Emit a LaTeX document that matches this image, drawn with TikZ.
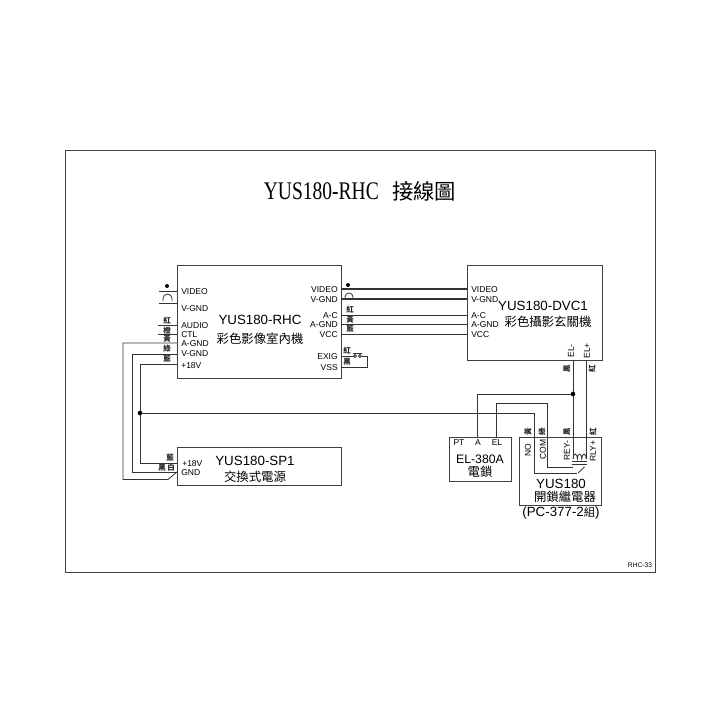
\documentclass[tikz,border=0pt]{standalone}
\usepackage{graphicx}
\usepackage{fontspec}
\setmainfont{Liberation Sans}
\newfontfamily\cjk{Noto Sans CJK TC}
\newfontfamily\titlef{Liberation Serif}
\tikzset{
 px/.style={x=0.75pt,y=-0.75pt},
 boxs/.style={draw=black!75,line width=0.65pt,fill=none},
 wire/.style={draw=black!80,line width=0.6pt},
 thick wire/.style={draw=black!80,line width=1pt},
 lab/.style={font=\fontsize{6.4}{7}\selectfont,inner sep=0pt,text=black,yshift=-0.6pt},
 smallc/.style={font=\cjk\bfseries\fontsize{5.6}{6}\selectfont,inner sep=0pt,text=black!85},
 big/.style={font=\fontsize{10}{12}\selectfont,inner sep=0pt,text=black},
 cname/.style={font=\cjk\fontsize{9.3}{10}\selectfont,inner sep=0pt,text=black},
 dot/.style={circle,fill=black,inner sep=0pt,minimum size=4pt}
}
\begin{document}
\begin{tikzpicture}[px]
\useasboundingbox[fill=white] (0,0) rectangle (720,720);
\draw[boxs] (65,150) rectangle (655,572);
\node[inner sep=0pt,text=black] (title) at (360,191) {\scalebox{0.77}[1]{\titlef\fontsize{19}{20}\selectfont YUS180-RHC}\hspace{10pt}{\cjk\fontsize{16}{17}\selectfont 接線圖}};
% boxes
\draw[boxs] (177,265) rectangle (341,378);
\draw[boxs] (467,265) rectangle (602,360);
\draw[boxs] (177,447) rectangle (341,485);
\draw[boxs] (449,437) rectangle (511,481);
\draw[boxs] (519,437) rectangle (601,505);
% main labels
\node[big] (rhc) at (260,320) {YUS180-RHC};
\node[cname] (rhcz) at (260,339) {彩色影像室內機};
\node[big] (dvc) at (543,306) {YUS180-DVC1};
\node[cname] (dvcz) at (548,322) {彩色攝影玄關機};
\node[big] (sp) at (255,461) {YUS180-SP1};
\node[cname] (spz) at (255,477) {交換式電源};
\node[big,font=\fontsize{9.2}{11}\selectfont] (el) at (480,459) {EL-380A};
\node[cname] (elz) at (480,472) {電鎖};
\node[big] (ry) at (561,484) {YUS180};
\node[cname] (ryz) at (565,497) {開鎖繼電器};
\node[big] (pc) at (561,513) {(PC-377-2{\cjk\fontsize{8.5}{9}\selectfont 組})};
% left pins
\foreach \t/\y in {VIDEO/291,V-GND/308,AUDIO/325,CTL/334,A-GND/343,V-GND/353,+18V/365}
  \node[lab,anchor=west] at (181,\y) {\t};
% right pins
\foreach \t/\y in {VIDEO/289,V-GND/299,A-C/315,A-GND/324,VCC/334,EXIG/356}
  \node[lab,anchor=east] at (338,\y) {\t};
\node[lab,anchor=east] at (338,367) {VSS};
% DVC pins
\foreach \t/\y in {VIDEO/289,V-GND/299,A-C/315,A-GND/324,VCC/334}
  \node[lab,anchor=west] at (471,\y) {\t};
\node[lab,rotate=90] at (571,350) {EL-};
\node[lab,rotate=90] at (587,350) {EL+};
% SP1 pins
\node[lab,anchor=west] at (182,463) {+18V};
\node[lab,anchor=west] at (181,472) {GND};
% EL pins
\node[lab] at (459,442) {PT};
\node[lab] at (478,442) {A};
\node[lab] at (497,442) {EL};
% relay pins
\node[lab,rotate=90] at (528,449) {NO};
\node[lab,rotate=90] at (543,449) {COM};
\node[lab,rotate=90] at (567,450) {REY-};
\node[lab,rotate=90] at (593,450) {RLY+};
\node[font=\fontsize{5}{6}\selectfont,inner sep=0pt] (code) at (640,565) {RHC-33};
% left stubs
\draw[wire] (159,291) -- (177,291);
\draw[wire] (159,303) -- (177,303);
\draw[wire] (158,325) -- (177,325);
\draw[wire] (158,334) -- (177,334);
\node[dot,minimum size=3pt] at (167,286) {};
\draw[wire] (163,301) -- (163,298.5) arc (180:360:4.5) -- (172,301);
\node[smallc] at (167,321) {紅};
\node[smallc] at (167,330.5) {橙};
\node[smallc] at (167,339) {黃};
\node[smallc] at (167,348.5) {綠};
\node[smallc] at (167,358.5) {藍};
% power wires
\coordinate (j1) at (140,413);
\coordinate (j2) at (573,394);
\draw[wire] (177,343) -- (123,343) -- (123,479.5) -- (168,479.5) -- (177,472);
\draw[wire] (177,354) -- (132,354) -- (132,472) -- (177,472);
\draw[wire] (177,364) -- (140,364) -- (140,463) -- (177,463);
\draw[wire] (j1) -- (534,413) -- (534,473) -- (577,473);
\node[dot,minimum size=3.5pt] at (j1) {};
\node[smallc] at (170,458) {藍};
\node[smallc] at (162,468) {黑};
\node[smallc] at (171,468) {白};
% right wires
\draw[thick wire] (341,289) -- (467,289);
\draw[thick wire] (341,299) -- (467,299);
\draw[wire] (341,315) -- (467,315);
\draw[wire] (341,324) -- (467,324);
\draw[wire] (341,334) -- (467,334);
\node[dot,minimum size=3pt] at (348,285) {};
\draw[wire] (345,298) -- (345,297) arc (180:360:4) -- (353,298);
\node[smallc] at (350,310) {紅};
\node[smallc] at (350,319.5) {黃};
\node[smallc] at (350,329) {藍};
% EXIG loop
\draw[wire] (341,356) -- (353,356) (362,356) -- (367,356) -- (367,367) -- (341,367);
\draw[wire] (355,356) circle (1.5) (360,356) circle (1.5);
\draw[wire] (353,353.5) -- (362,353.5);
\node[smallc] at (347,351) {紅};
\node[smallc] at (347,362) {黑};
% DVC to relay
\draw[wire] (573,360) -- (573,459);
\draw[wire] (586.2,360) -- (586.2,459);
\node[smallc,rotate=90] at (567,369) {黑};
\node[smallc,rotate=90] at (592,369) {紅};
\draw[wire] (j2) -- (477,394) -- (477,437);
\node[dot,minimum size=3.5pt] at (j2) {};
\draw[wire] (496,437) -- (496,403) -- (547,403) -- (547,467.5) -- (573,467.5);
\draw[wire] (578,473) -- (584.5,467);
% relay labels
\node[smallc,rotate=90] at (528,432) {黃};
\node[smallc,rotate=90] at (542,432) {綠};
\node[smallc,rotate=90] at (567,432) {黑};
\node[smallc,rotate=90] at (593,432) {紅};
% coil
\draw[wire] (573,459) arc (180:360:2.2 and 5) arc (180:360:2.2 and 5) arc (180:360:2.2 and 5);
\draw[wire] (572,461.5) -- (587,461.5) (572,464) -- (587,464);
\end{tikzpicture}
\end{document}
